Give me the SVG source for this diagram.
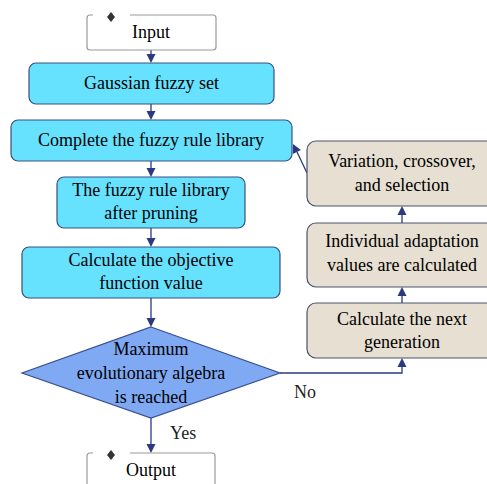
<svg xmlns="http://www.w3.org/2000/svg" width="487" height="484" viewBox="0 0 487 484">
<rect width="487" height="484" fill="#fff"/>
<g id="connectors" stroke="#2b3a80" stroke-width="1.3">
<line x1="151" y1="50" x2="151" y2="56" fill="none"/>
<polygon points="146.5,54 155.5,54 151,63" fill="#2b3a80" stroke="none"/>
<line x1="151" y1="104" x2="151" y2="112" fill="none"/>
<polygon points="146.5,111 155.5,111 151,120" fill="#2b3a80" stroke="none"/>
<line x1="151" y1="161" x2="151" y2="169" fill="none"/>
<polygon points="146.5,168 155.5,168 151,177" fill="#2b3a80" stroke="none"/>
<line x1="151" y1="228" x2="151" y2="239" fill="none"/>
<polygon points="146.5,238 155.5,238 151,247" fill="#2b3a80" stroke="none"/>
<line x1="151" y1="298" x2="151" y2="319" fill="none"/>
<polygon points="146.5,318 155.5,318 151,327" fill="#2b3a80" stroke="none"/>
<line x1="151" y1="418" x2="151" y2="445" fill="none"/>
<polygon points="146.5,444 155.5,444 151,453" fill="#2b3a80" stroke="none"/>
<polyline points="280,373 402,373 402,366" fill="none"/>
<polygon points="397.5,367 406.5,367 402,358" fill="#2b3a80" stroke="none"/>
<line x1="402" y1="303" x2="402" y2="295" fill="none"/>
<polygon points="397.5,296 406.5,296 402,287" fill="#2b3a80" stroke="none"/>
<line x1="402" y1="223" x2="402" y2="214" fill="none"/>
<polygon points="397.5,215 406.5,215 402,206" fill="#2b3a80" stroke="none"/>
<line x1="307" y1="173" x2="297" y2="152" fill="none"/>
<polygon points="300.9,150.1 292.9,154.1 293,144" fill="#2b3a80" stroke="none"/>
</g>
<g id="labels" fill="#222">
<text x="294" y="398" font-family="Liberation Serif" font-size="18">No</text>
<text x="170" y="439" font-family="Liberation Serif" font-size="18">Yes</text>
</g>
<g id="input">
<path fill="#fff" stroke="#9a9a9a" stroke-width="1.2" d="M93,15 H90 Q87,15 87,18 V47 Q87,50 90,50 H213 Q216,50 216,47 V18 Q216,15 213,15 H130"/>
<path d="M111,12 L115,17 L111,22 L107,17 z" fill="#333"/>
<text x="151" y="38" text-anchor="middle" font-family="Liberation Serif" font-size="18">Input</text>
</g>
<g id="gaussian">
<rect fill="#66e2ff" stroke="#3b4f7e" stroke-width="1.2" x="29" y="63" width="245" height="41" rx="7"/>
<text x="151.5" y="89" text-anchor="middle" font-family="Liberation Serif" font-size="18">Gaussian fuzzy set</text>
</g>
<g id="complete">
<rect fill="#66e2ff" stroke="#3b4f7e" stroke-width="1.2" x="11" y="120" width="281" height="41" rx="7"/>
<text x="151" y="146" text-anchor="middle" font-family="Liberation Serif" font-size="18">Complete the fuzzy rule library</text>
</g>
<g id="pruning">
<rect fill="#66e2ff" stroke="#3b4f7e" stroke-width="1.2" x="57" y="177" width="188" height="51" rx="7"/>
<text x="151" y="196" text-anchor="middle" font-family="Liberation Serif" font-size="18">The fuzzy rule library</text>
<text x="151" y="219" text-anchor="middle" font-family="Liberation Serif" font-size="18">after pruning</text>
</g>
<g id="objective">
<rect fill="#66e2ff" stroke="#3b4f7e" stroke-width="1.2" x="22" y="247" width="258" height="51" rx="7"/>
<text x="151" y="266" text-anchor="middle" font-family="Liberation Serif" font-size="18">Calculate the objective</text>
<text x="151" y="289" text-anchor="middle" font-family="Liberation Serif" font-size="18">function value</text>
</g>
<g id="decision">
<polygon points="151,327 280,373 151,418 22,373" fill="#7fa9f2" stroke="#3b4f8e" stroke-width="1.2"/>
<text x="151" y="355" text-anchor="middle" font-family="Liberation Serif" font-size="18">Maximum</text>
<text x="151" y="379" text-anchor="middle" font-family="Liberation Serif" font-size="18">evolutionary algebra</text>
<text x="151" y="403" text-anchor="middle" font-family="Liberation Serif" font-size="18">is reached</text>
</g>
<g id="output">
<path fill="#fff" stroke="#9a9a9a" stroke-width="1.2" d="M93,453 H90 Q87,453 87,456 V490 M215,490 V456 Q215,453 212,453 H130"/>
<path d="M111,450 L115,455 L111,460 L107,455 z" fill="#333"/>
<text x="151" y="476" text-anchor="middle" font-family="Liberation Serif" font-size="18">Output</text>
</g>
<g id="variation">
<rect fill="#e6dfd2" stroke="#4a5270" stroke-width="1.2" x="307" y="141" width="190" height="65" rx="9"/>
<text x="402" y="167" text-anchor="middle" font-family="Liberation Serif" font-size="18">Variation, crossover,</text>
<text x="402" y="191" text-anchor="middle" font-family="Liberation Serif" font-size="18">and selection</text>
</g>
<g id="individual">
<rect fill="#e6dfd2" stroke="#4a5270" stroke-width="1.2" x="307" y="223" width="190" height="64" rx="9"/>
<text x="402" y="247" text-anchor="middle" font-family="Liberation Serif" font-size="18">Individual adaptation</text>
<text x="402" y="271" text-anchor="middle" font-family="Liberation Serif" font-size="18">values are calculated</text>
</g>
<g id="nextgen">
<rect fill="#e6dfd2" stroke="#4a5270" stroke-width="1.2" x="307" y="303" width="190" height="55" rx="9"/>
<text x="402" y="325" text-anchor="middle" font-family="Liberation Serif" font-size="18">Calculate the next</text>
<text x="402" y="348" text-anchor="middle" font-family="Liberation Serif" font-size="18">generation</text>
</g>
</svg>
